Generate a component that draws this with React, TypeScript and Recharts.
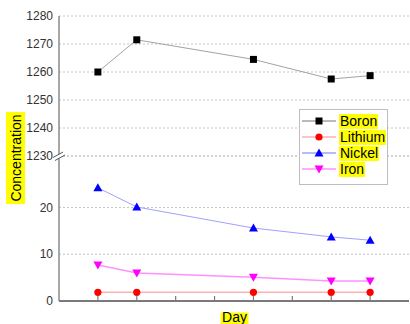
import React from 'react';
import { LineChart, Line, XAxis, YAxis, CartesianGrid, Legend } from 'recharts';

// ---------- data ----------
const days = [1, 2, 5, 7, 8];
const boron = [1260, 1271.5, 1264.5, 1257.5, 1258.7];
const lithium = [1.85, 1.85, 1.85, 1.85, 1.85];
const nickel = [24.2, 20.1, 15.6, 13.7, 13.0];
const iron = [7.7, 6.0, 5.1, 4.3, 4.3];

const dayTicks = [1, 2, 3, 4, 5, 6, 7, 8];
const dayDomain = [0, 9];
const upperTicks = [1230, 1240, 1250, 1260, 1270, 1280];
const upperDomain = [1230, 1280];
const lowerTicks = [0, 10, 20];
const lowerDomain = [0, 31];
const seriesNames = ['Boron', 'Lithium', 'Nickel', 'Iron'];
const xLabel = 'Day';
const yLabel = 'Concentration';

const data = days.map((d, i) => ({
  day: d,
  Boron: boron[i],
  Lithium: lithium[i],
  Nickel: nickel[i],
  Iron: iron[i],
}));

// ---------- styles ----------
const FONT = '"Liberation Sans", Arial, Helvetica, sans-serif';
const AXIS = '#8a8a8a';
const GRID = '#c4c4c4';
const HILITE = '#ffff00';
const W = 410;
const H = 324;
const PLOT_LEFT = 59;
const PLOT_RIGHT = 409;
const PLOT_TOP = 16;
const BREAK_Y = 156;
const PLOT_BOTTOM = 301;

const styles: Record<string, { line: string; marker: string; shape: string; width: number }> = {
  Boron: { line: '#a3a3a3', marker: '#000000', shape: 'square', width: 1 },
  Lithium: { line: '#ffb0b0', marker: '#ff0000', shape: 'circle', width: 1.5 },
  Nickel: { line: '#a0a0ff', marker: '#0000ff', shape: 'up', width: 1 },
  Iron: { line: '#ff90ff', marker: '#ff00ff', shape: 'down', width: 1.5 },
};

function Marker({ shape, cx, cy, color }: any) {
  if (cx == null || cy == null) return null;
  switch (shape) {
    case 'square':
      return <rect x={cx - 3.5} y={cy - 3.5} width={7} height={7} fill={color} />;
    case 'circle':
      return <circle cx={cx} cy={cy} r={3.6} fill={color} />;
    case 'up':
      return <polygon points={`${cx},${cy - 4.5} ${cx + 4.5},${cy + 3.5} ${cx - 4.5},${cy + 3.5}`} fill={color} />;
    case 'down':
      return <polygon points={`${cx - 4.5},${cy - 3.5} ${cx + 4.5},${cy - 3.5} ${cx},${cy + 4.5}`} fill={color} />;
    default:
      return null;
  }
}

const makeDot = (name: string) => (p: any) => (
  <g key={`${name}-${p.index}`}>
    <Marker shape={styles[name].shape} cx={p.cx} cy={p.cy} color={styles[name].marker} />
  </g>
);

const BreakMark = ({ x, y }: any) => (
  <g>
    <polygon points={`${x - 6},${y + 1.5} ${x + 4},${y - 4} ${x + 6},${y - 1} ${x - 4},${y + 4.5}`} fill="#ffffff" />
    <line x1={x - 6} y1={y + 1.5} x2={x + 4} y2={y - 4} stroke="#555" strokeWidth={1} />
    <line x1={x - 4} y1={y + 4.5} x2={x + 6} y2={y - 1} stroke="#555" strokeWidth={1} />
  </g>
);

const LeftTick = (isUpper: boolean) => (props: any) => {
  const { x, y, payload } = props;
  return (
    <g>
      <text x={x} y={y} dy={4.2} textAnchor="end" fontSize={12} fill="#333" fontFamily={FONT}>
        {payload.value}
      </text>
      {isUpper && payload.value === upperDomain[0] ? <BreakMark x={PLOT_LEFT} y={y} /> : null}
    </g>
  );
};

const RightBreakTick = (props: any) => {
  const { y, payload } = props;
  if (payload.value !== upperDomain[0]) return <g />;
  return <BreakMark x={PLOT_RIGHT} y={y} />;
};

const YLabelContent = (props: any) => {
  const vb = props.viewBox || { x: 0, y: PLOT_TOP, width: PLOT_LEFT, height: BREAK_Y - PLOT_TOP };
  const cx = vb.x + 15.5;
  const cy = vb.y + vb.height + 2;
  return (
    <g>
      <rect x={cx - 9.5} y={cy - 46} width={19} height={92} fill={HILITE} />
      <text
        x={cx}
        y={cy}
        dy="0.36em"
        textAnchor="middle"
        fontSize={14}
        fontFamily={FONT}
        fill="#000"
        transform={`rotate(-90, ${cx}, ${cy})`}
      >
        {yLabel}
      </text>
    </g>
  );
};

const XLabelContent = (props: any) => {
  const vb = props.viewBox || { x: PLOT_LEFT, y: PLOT_BOTTOM, width: PLOT_RIGHT - PLOT_LEFT, height: 23 };
  const cx = vb.x + vb.width / 2 + 0.5;
  return (
    <g>
      <rect x={cx - 14} y={PLOT_BOTTOM + 11.5} width={28} height={13} fill={HILITE} />
      <text x={cx} y={PLOT_BOTTOM + 20.5} textAnchor="middle" fontSize={14} fontFamily={FONT} fill="#000">
        {xLabel}
      </text>
    </g>
  );
};

const LegendContent = () => (
  <div
    style={{
      width: 89,
      height: 76,
      border: '1px solid #bdbdbd',
      background: '#fff',
      boxSizing: 'border-box',
      paddingTop: 3,
      fontFamily: FONT,
      fontSize: 14,
      color: '#000',
    }}
  >
    {seriesNames.map((n) => (
      <div key={n} style={{ height: 16, display: 'flex', alignItems: 'center' }}>
        <svg width={34} height={16} style={{ marginLeft: 2, display: 'block' }}>
          <line x1={0} y1={8} x2={34} y2={8} stroke={styles[n].line} strokeWidth={1.5} />
          <Marker shape={styles[n].shape} cx={17} cy={8} color={styles[n].marker} />
        </svg>
        <span style={{ marginLeft: 3, background: HILITE, lineHeight: '15px', padding: '0 1px' }}>{n}</span>
      </div>
    ))}
  </div>
);

export default function App() {
  return (
    <div style={{ position: 'absolute', left: 0, top: 0, width: W, height: H, background: '#fff' }}>
      {/* lower panel */}
      <div style={{ position: 'absolute', left: 0, top: 0, zIndex: 1 }}>
        <LineChart width={W} height={H} data={data} margin={{ top: BREAK_Y, right: W - PLOT_RIGHT, bottom: H - PLOT_BOTTOM, left: 0 }}>
          <CartesianGrid horizontal vertical={false} stroke={GRID} strokeDasharray="2 2" />
          <XAxis
            dataKey="day"
            type="number"
            domain={dayDomain}
            ticks={dayTicks}
            orientation="bottom"
            mirror
            height={H - PLOT_BOTTOM}
            tickSize={5}
            tickFormatter={() => ''}
            axisLine={{ stroke: '#7a7a7a', strokeWidth: 1.8 }}
            tickLine={{ stroke: '#7a7a7a', strokeWidth: 1.2 }}
            label={<XLabelContent />}
          />
          <YAxis
            type="number"
            domain={lowerDomain}
            ticks={lowerTicks}
            width={PLOT_LEFT}
            tickSize={4}
            tickMargin={2}
            tickLine={false}
            axisLine={{ stroke: AXIS, strokeWidth: 1.5 }}
            tick={LeftTick(false)}
          />
          <YAxis
            yAxisId="r"
            orientation="right"
            type="number"
            domain={lowerDomain}
            ticks={lowerTicks}
            width={0}
            mirror
            tickSize={4}
            tickFormatter={() => ''}
            axisLine={{ stroke: AXIS, strokeWidth: 1.5 }}
            tickLine={{ stroke: AXIS }}
          />
          {['Lithium', 'Nickel', 'Iron'].map((n) => (
            <Line
              key={n}
              dataKey={n}
              name={n}
              type="linear"
              stroke={styles[n].line}
              strokeWidth={styles[n].width}
              dot={makeDot(n)}
              activeDot={false}
              isAnimationActive={false}
            />
          ))}
        </LineChart>
      </div>
      {/* upper panel */}
      <div style={{ position: 'absolute', left: 0, top: 0, zIndex: 2 }}>
        <LineChart width={W} height={H} data={data} margin={{ top: PLOT_TOP, right: W - PLOT_RIGHT, bottom: H - BREAK_Y, left: 0 }}>
          <CartesianGrid horizontal vertical={false} stroke={GRID} strokeDasharray="2 2" />
          <XAxis
            dataKey="day"
            type="number"
            domain={dayDomain}
            ticks={dayTicks}
            orientation="top"
            mirror
            height={0}
            tickSize={5}
            tickFormatter={() => ''}
            axisLine={{ stroke: AXIS, strokeWidth: 1.5 }}
            tickLine={{ stroke: AXIS, strokeWidth: 1.2 }}
          />
          <YAxis
            type="number"
            domain={upperDomain}
            ticks={upperTicks}
            width={PLOT_LEFT}
            tickSize={4}
            tickMargin={2}
            tickLine={false}
            axisLine={{ stroke: AXIS, strokeWidth: 1.5 }}
            tick={LeftTick(true)}
            label={<YLabelContent />}
          />
          <YAxis
            yAxisId="r"
            orientation="right"
            type="number"
            domain={upperDomain}
            ticks={upperTicks}
            width={0}
            mirror
            tickSize={4}
            axisLine={{ stroke: AXIS, strokeWidth: 1.5 }}
            tickLine={{ stroke: AXIS }}
            tick={RightBreakTick}
          />
          <Line
            dataKey="Boron"
            name="Boron"
            type="linear"
            stroke={styles.Boron.line}
            strokeWidth={styles.Boron.width}
            dot={makeDot('Boron')}
            activeDot={false}
            isAnimationActive={false}
          />
          <Legend
            layout="vertical"
            align="center"
            verticalAlign="middle"
            content={<LegendContent />}
            wrapperStyle={{ position: 'absolute', left: 299, top: 109, width: 89, height: 76, margin: 0 }}
          />
        </LineChart>
      </div>
    </div>
  );
}
